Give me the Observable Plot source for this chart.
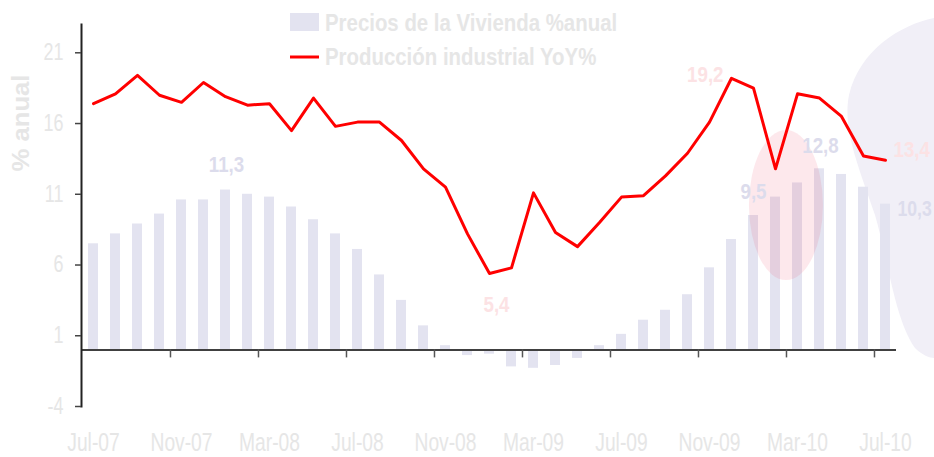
<!DOCTYPE html>
<html><head><meta charset="utf-8">
<script src="https://cdn.jsdelivr.net/npm/d3@7"></script>
<script src="https://cdn.jsdelivr.net/npm/@observablehq/plot@0.6"></script>
<style>
html,body{margin:0;padding:0;background:#fff;}
#chart{position:relative;width:934px;height:457px;overflow:hidden;}
</style></head><body><div id="chart"></div>
<script>
// ---- data ----
const months = ["Jul-07","Ago-07","Sep-07","Oct-07","Nov-07","Dic-07",
  "Ene-08","Feb-08","Mar-08","Abr-08","May-08","Jun-08","Jul-08","Ago-08","Sep-08","Oct-08","Nov-08","Dic-08",
  "Ene-09","Feb-09","Mar-09","Abr-09","May-09","Jun-09","Jul-09","Ago-09","Sep-09","Oct-09","Nov-09","Dic-09",
  "Ene-10","Feb-10","Mar-10","Abr-10","May-10","Jun-10","Jul-10"];
const precios = [7.5,8.2,8.9,9.6,10.6,10.6,11.3,11.0,10.8,10.1,9.2,8.2,7.1,
  5.3,3.5,1.7,0.3,-0.4,-0.3,-1.2,-1.3,-1.1,-0.6,0.3,1.1,
  2.1,2.8,3.9,5.8,7.8,9.5,10.8,11.8,12.8,12.4,11.5,10.3];
const produccion = [17.4,18.1,19.4,18.0,17.5,18.9,17.9,17.3,17.4,15.5,17.8,15.8,16.1,
  16.1,14.8,12.8,11.5,8.2,5.4,5.8,11.1,8.3,7.3,9.0,10.8,
  10.9,12.3,13.9,16.1,19.2,18.5,12.8,18.1,17.8,16.5,13.7,13.4];
const yTicks = [-4,1,6,11,16,21];
const xLabelMonths = ["Jul-07","Nov-07","Mar-08","Jul-08","Nov-08","Mar-09","Jul-09","Nov-09","Mar-10","Jul-10"];
const xTickMonths = xLabelMonths.slice(1);
const seriesNames = ["Precios de la Vivienda %anual","Producción industrial YoY%"];
const yTitle = "% anual";

// ---- build ----
const data = months.map((m,i)=>({month:m, precios:precios[i], produccion:produccion[i]}));
const fmt = v => v.toFixed(1).replace(".", ",");
const W=934, H=457, mL=81, mR=38, mT=24, mB=51;
const step = (W-mL-mR)/months.length;
const FONT = '"Liberation Sans Narrow","Arial Narrow","Liberation Sans",Arial,sans-serif';
const barColor = "#e3e3f0", lineColor = "#ff0000", textGray = "#e6e6e6";
const lavText = "#dcdcec", pinkText = "#fce2e4";

function lbl(month, key, opts){
  return Plot.text(data.filter(d=>d.month===month), {x:"month", y:key, text:d=>fmt(d[key]),
    fontWeight:"bold", fontSize:22, ariaLabel: () => "datalabel", ...opts});
}

const blob = (index, scales, values, dims) => {
  const g = d3.create("svg:g");
  const r = dims.width;
  g.append("path")
    .attr("d", `M${r},18 C${r-34},25 ${r-74},50 ${r-85},95 C${r-92},130 ${r-74},170 ${r-59},215 C${r-46},260 ${r-39},320 ${r-19},348 C${r-12},355 ${r-4},358 ${r},358 Z`)
    .attr("fill", "#f1eff7");
  return g.node();
};
const ellipse = (index, {x, y}, values, dims) => {
  const g = d3.create("svg:g");
  g.append("ellipse")
    .attr("cx", x("Mar-10") - 0.275*step).attr("cy", y(10.2))
    .attr("rx", 37).attr("ry", 75)
    .attr("fill", "#f04060").attr("fill-opacity", 0.12);
  return g.node();
};

const chart = Plot.plot({
  width: W, height: H,
  marginLeft: mL, marginRight: mR, marginTop: mT, marginBottom: mB,
  style: {fontFamily: FONT, background: "transparent", overflow: "visible"},
  x: {type: "band", domain: months, paddingInner: 0.55, paddingOuter: 0.275},
  y: {domain: [-4, 23]},
  marks: [
    blob,
    Plot.barY(data, {x: "month", y: "precios", fill: barColor}),
    ellipse,
    Plot.ruleY([0], {stroke: "#404040", strokeWidth: 2}),
    Plot.ruleX(xTickMonths, {x: d => d, y1: 0, y2: 0, insetBottom: -8, dx: -step/2, stroke: "#555", strokeWidth: 1.5}),
    Plot.frame({anchor: "left", stroke: "#222", strokeWidth: 2}),
    Plot.axisY({ticks: yTicks, tickSize: 6, text: null, stroke: "#444", strokeWidth: 1.5, label: null}),
    Plot.axisY({ticks: yTicks, tickSize: 0, tickPadding: 18, color: textGray, fontSize: 23, label: null, tickFormat: d => String(d)}),
    Plot.axisX({ticks: xLabelMonths, tickSize: 0, tickPadding: 26, color: textGray, fontSize: 26, label: null}),
    Plot.line(data, {x: "month", y: "produccion", stroke: lineColor, strokeWidth: 3}),
    lbl("Ene-08", "precios", {fill: lavText, dx: 1, dy: -25}),
    lbl("Ene-10", "precios", {fill: lavText, dx: 0, dy: -24}),
    lbl("Abr-10", "precios", {fill: lavText, dx: 1, dy: -23}),
    lbl("Jul-10", "precios", {fill: lavText, textAnchor: "start", dx: 12, dy: 5, ariaLabel: () => "datalabel-r"}),
    lbl("Ene-09", "produccion", {fill: pinkText, dx: 7, dy: 31}),
    lbl("Dic-09", "produccion", {fill: pinkText, textAnchor: "end", dx: -8, dy: -3}),
    lbl("Jul-10", "produccion", {fill: pinkText, textAnchor: "start", dx: 8, dy: -10}),
    Plot.text([yTitle], {frameAnchor: "left", dx: -60, dy: -44, rotate: -90, fontWeight: "bold", fontSize: 23, fill: textGray, ariaLabel: () => "ytitle"})
  ]
});

// legend inside the chart area
const svg = d3.select(chart);
const leg = svg.append("g").attr("class", "legend").attr("font-family", FONT).attr("font-weight", "bold")
  .attr("font-size", 24).attr("fill", textGray).attr("text-anchor", "start");
leg.append("rect").attr("x", 290).attr("y", 13).attr("width", 29).attr("height", 18).attr("fill", barColor);
leg.append("line").attr("x1", 290).attr("x2", 319).attr("y1", 57).attr("y2", 57).attr("stroke", lineColor).attr("stroke-width", 3);
leg.append("text").attr("x", 325).attr("y", 31).text(seriesNames[0]);
leg.append("text").attr("x", 325).attr("y", 65).text(seriesNames[1]);

document.getElementById("chart").appendChild(chart);

// narrow the glyphs (the original uses a condensed face)
function squeeze(sel, k, fixed){
  sel.each(function(){
    const len = this.getComputedTextLength();
    if (!len) return;
    this.setAttribute("textLength", fixed ? fixed : len * k);
    this.setAttribute("lengthAdjust", "spacingAndGlyphs");
  });
}
squeeze(svg.selectAll('g[aria-label="x-axis tick label"] text'), 0.74);
squeeze(svg.selectAll('g[aria-label="y-axis tick label"] text'), 0.78);
squeeze(svg.selectAll('text[aria-label="datalabel"]'), 0.85);
squeeze(svg.selectAll('text[aria-label="datalabel-r"]'), 0.8);
squeeze(svg.selectAll('text[aria-label="ytitle"]'), 1, 97);
squeeze(svg.selectAll('g.legend text'), 0.85);
</script></body></html>
